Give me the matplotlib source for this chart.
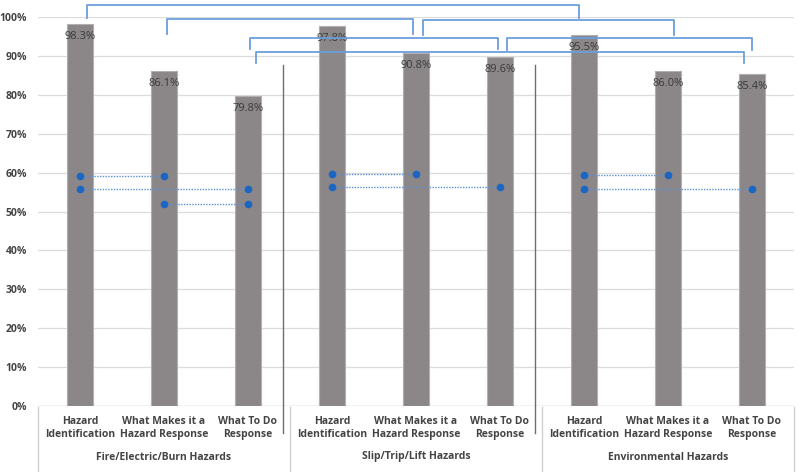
import matplotlib.pyplot as plt
import matplotlib.transforms as mtransforms

plt.rcParams['font.family'] = ['Open Sans', 'DejaVu Sans']

categories = ['Hazard\nIdentification', 'What Makes it a\nHazard Response', 'What To Do\nResponse'] * 3
groups = ['Fire/Electric/Burn Hazards', 'Slip/Trip/Lift Hazards', 'Environmental Hazards']
values = [98.3, 86.1, 79.8, 97.8, 90.8, 89.6, 95.5, 86.0, 85.4]
y_ticks = [0, 10, 20, 30, 40, 50, 60, 70, 80, 90, 100]

# paired dots: (bar a, bar b, level %)
dot_pairs = [
    (0, 1, 59.1), (0, 2, 55.7), (1, 2, 51.9),
    (3, 4, 59.6), (3, 5, 56.2),
    (6, 7, 59.3), (6, 8, 55.9),
]

# brackets: (bar a, bar b, top %, end %)
brackets = [
    (0, 6, 103.1, 99.7),
    (1, 4, 99.5, 95.6),
    (4, 7, 99.2, 95.4),
    (2, 5, 94.6, 91.8),
    (5, 8, 94.6, 91.5),
    (2, 8, 91.0, 88.2),
]
bracket_offsets = [(0.08, -0.06), (0.04, -0.04), (0.08, 0.07), (0.02, -0.02), (0.08, 0.0), (0.1, -0.1)]

TXT = '#444444'


def main():
    fig = plt.figure(figsize=(8, 4.72), dpi=100)
    ax = fig.add_axes([38 / 800, 66 / 472, 756 / 800, 389 / 472])

    x = list(range(len(values)))
    bars = ax.bar(x, values, width=0.31, color='#8b8688', edgecolor='#b3afb1', linewidth=0.8, zorder=2)

    for b, v in zip(bars, values):
        ax.annotate(f'{v:.1f}%', (b.get_x() + b.get_width() / 2, v), xytext=(0, -9),
                    textcoords='offset points', ha='center', va='center',
                    fontsize=8, color='#3a3a3a', zorder=4)

    # dotted connections with dots
    for a, b, lvl in dot_pairs:
        ax.plot([a, b], [lvl, lvl], linestyle=(0, (1, 1)), color='#5b8fd6', linewidth=1, zorder=3)
        ax.plot([a, b], [lvl, lvl], linestyle='none', marker='o', markersize=4.5,
                color='#1a66c2', zorder=4)

    # brackets on top
    for (a, b, top, end), (oa, ob) in zip(brackets, bracket_offsets):
        ax.plot([a + oa, a + oa, b + ob, b + ob], [end, top, top, end], color='#6a9fdc',
                linewidth=1.3, clip_on=False, zorder=5)

    # dark separators between groups
    for sx in [2.42, 5.42]:
        ax.plot([sx, sx], [87.7, -6.9], color='#6e6e6e', linewidth=1, clip_on=False, zorder=5)

    ax.set_xlim(-0.5, 8.5)
    ax.set_ylim(0, 100)
    ax.set_yticks(y_ticks)
    ax.set_yticklabels([f'{t}%' for t in y_ticks], fontsize=7.5, color=TXT, fontweight='bold')
    ax.tick_params(axis='y', length=0, pad=8)
    ax.set_xticks([])
    ax.grid(axis='y', color='#dcdcdc', linewidth=0.9, zorder=0)
    ax.set_axisbelow(True)
    for s in ax.spines.values():
        s.set_visible(False)
    ax.axhline(0, color='#d0d0d0', linewidth=1, zorder=1)

    # two level category axis
    trans = mtransforms.blended_transform_factory(ax.transData, fig.transFigure)
    for i, lab in enumerate(categories):
        ax.text(i, 1 - 428 / 472, lab, transform=trans, ha='center', va='center',
                fontsize=7.5, color=TXT, fontweight='bold', linespacing=1.25)
    for g, name in enumerate(groups):
        ax.text(3 * g + 1, 1 - 457 / 472, name, transform=trans, ha='center', va='center',
                fontsize=7.5, color=TXT, fontweight='bold')
    for dx in [-0.5, 2.5, 5.5, 8.5]:
        ax.plot([dx, dx], [1 - 407 / 472, 0], transform=trans, color='#d0d0d0',
                linewidth=1, clip_on=False)

    fig.savefig('out.png', dpi=100)


if __name__ == '__main__':
    main()
